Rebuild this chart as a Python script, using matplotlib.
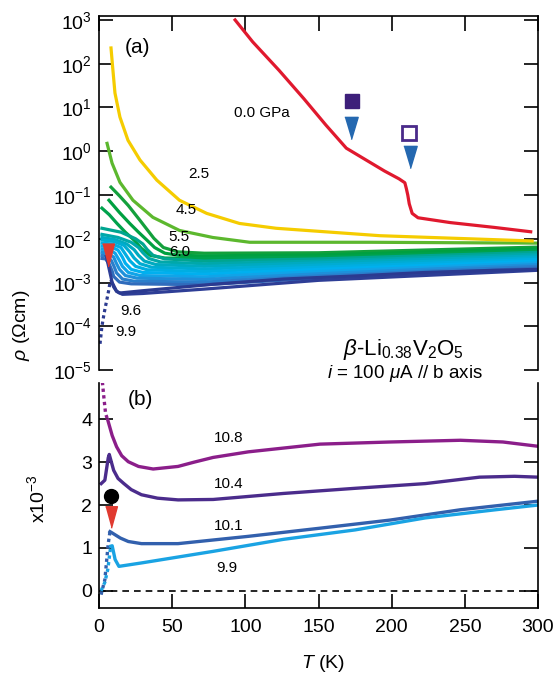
import matplotlib.pyplot as plt

plt.rcParams['font.family'] = ['Liberation Sans', 'DejaVu Sans']
plt.rcParams['mathtext.fontset'] = 'custom'
plt.rcParams['mathtext.rm'] = 'Liberation Sans'
plt.rcParams['mathtext.it'] = 'Liberation Sans:italic'

# ---- panel (a): log10 rho (Ohm cm) vs T (K) ----
t_00 = [93, 105, 123, 140, 155, 169, 180, 195, 205, 209, 210, 211, 212, 214, 218, 240, 270, 295]
lr_00 = [3.0, 2.5, 1.85, 1.2, 0.6, 0.07, -0.15, -0.45, -0.63, -0.72, -0.85, -1.0, -1.2, -1.42, -1.52, -1.63, -1.74, -1.84]

t_25 = [8.2, 9.3, 10.9, 14.3, 19.8, 28, 39.5, 55, 73.6, 96, 121, 192, 296]
lr_25 = [2.36, 1.93, 1.33, 0.78, 0.25, -0.2, -0.66, -1.12, -1.42, -1.65, -1.76, -1.93, -2.05]

t_45 = [5.5, 8.9, 14.3, 23.2, 36.8, 55, 77.7, 103, 185, 300]
lr_45 = [0.18, -0.27, -0.71, -1.12, -1.51, -1.81, -1.97, -2.08, -2.08, -2.1]

# curves from 5.5 GPa up to 9.6 GPa
mid_t = [
    [8.2, 14, 20, 28, 37.5, 44, 54, 72, 150, 300],
    [6.8, 14, 21, 27, 32.7, 38, 45, 55, 72, 150, 300],
    [2, 7, 12.3, 18, 23.9, 29, 35, 45, 72, 150, 300],
    [2, 15, 25, 30, 33, 37, 45, 72, 150, 300],
    [2, 13, 22, 27, 30, 34, 42, 72, 150, 300],
    [2, 11, 19, 24, 27, 31, 39, 72, 150, 300],
    [2, 10, 17, 21, 24, 28, 36, 72, 150, 300],
    [2, 9, 15, 18, 21, 25, 33, 72, 150, 300],
    [2, 8, 13, 16, 18, 22, 30, 72, 150, 300],
    [2, 7, 11, 14, 16, 20, 28, 72, 150, 300],
    [2, 6, 10, 12, 14, 18, 26, 72, 150, 300],
    [2, 5, 8.5, 10.5, 12, 16, 24, 72, 150, 300],
    [2, 4.5, 7, 9, 10, 14, 22, 72, 150, 300],
    [5, 7, 9, 12, 16, 30, 72, 150, 300],
]
mid_lr = [
    [-0.82, -1.02, -1.24, -1.58, -1.99, -2.2, -2.3, -2.33, -2.32, -2.19],
    [-1.12, -1.4, -1.65, -1.85, -2.03, -2.2, -2.33, -2.38, -2.39, -2.37, -2.23],
    [-1.3, -1.45, -1.65, -1.85, -2.03, -2.22, -2.38, -2.44, -2.45, -2.42, -2.27],
    [-1.76, -1.85, -2.0, -2.12, -2.25, -2.38, -2.46, -2.51, -2.46, -2.31],
    [-1.9, -1.97, -2.08, -2.2, -2.32, -2.45, -2.53, -2.57, -2.51, -2.35],
    [-1.97, -2.02, -2.12, -2.25, -2.38, -2.51, -2.59, -2.63, -2.55, -2.39],
    [-2.03, -2.06, -2.15, -2.3, -2.44, -2.57, -2.65, -2.69, -2.6, -2.43],
    [-2.1, -2.12, -2.2, -2.35, -2.5, -2.63, -2.71, -2.75, -2.65, -2.47],
    [-2.17, -2.18, -2.26, -2.42, -2.56, -2.7, -2.77, -2.81, -2.7, -2.51],
    [-2.24, -2.25, -2.33, -2.5, -2.63, -2.77, -2.84, -2.87, -2.75, -2.55],
    [-2.31, -2.32, -2.42, -2.57, -2.7, -2.84, -2.9, -2.93, -2.8, -2.59],
    [-2.38, -2.39, -2.5, -2.65, -2.78, -2.92, -2.97, -2.99, -2.85, -2.63],
    [-2.45, -2.46, -2.58, -2.74, -2.86, -2.99, -3.03, -3.05, -2.9, -2.67],
    [-2.4, -2.7, -3.0, -3.2, -3.27, -3.25, -3.15, -2.95, -2.72],
]
mid_colors = ['#13a03c', '#00a040', '#00a24c', '#00a590', '#00a8aa', '#00aac0',
              '#00acd2', '#00aee2', '#00b0ef', '#10a4e8', '#1e90da', '#2a7ecb',
              '#306cbc', '#2e3e96']

t_99a = [0.7, 2, 3.5, 5, 6.5, 7.5, 8.5, 10, 12, 14, 29, 78, 126, 175, 223, 271, 300]
lr_99a = [-4.4, -4.0, -3.7, -3.45, -3.2, -3.0, -2.97, -3.1, -3.2, -3.24, -3.19, -3.04, -2.92, -2.85, -2.77, -2.72, -2.7]

# ---- panel (b): rho in units of 1e-3 Ohm cm ----
t_108 = [2.3, 3.5, 4.5, 6, 9, 12, 15.5, 20, 27, 37, 54, 65, 78, 102, 151, 199, 247, 276, 300]
v_108 = [4.87, 4.45, 4.13, 3.98, 3.62, 3.36, 3.15, 3.01, 2.9, 2.84, 2.9, 3.0, 3.11, 3.24, 3.42, 3.47, 3.51, 3.47, 3.37]
t_104 = [1.5, 4, 6.3, 7, 10, 13, 17, 22, 29, 40, 54, 78, 126, 175, 223, 260, 284, 300]
v_104 = [2.5, 2.58, 3.1, 3.18, 2.81, 2.62, 2.5, 2.36, 2.24, 2.16, 2.12, 2.13, 2.27, 2.39, 2.5, 2.65, 2.67, 2.65]
t_101 = [1.4, 4, 6.3, 7.5, 8.5, 14.6, 20, 29, 54, 102, 151, 199, 247, 300]
v_101 = [-0.09, 0.26, 1.1, 1.38, 1.36, 1.23, 1.15, 1.1, 1.1, 1.27, 1.46, 1.65, 1.89, 2.09]
t_99b = [1.4, 4, 6, 8, 9, 11, 13.6, 29, 78, 126, 175, 223, 271, 300]
v_99b = [0.0, 0.2, 0.5, 1.04, 1.05, 0.73, 0.57, 0.65, 0.92, 1.2, 1.42, 1.7, 1.89, 2.0]

fig = plt.figure(figsize=(5.55, 6.79), dpi=100)
ax1 = fig.add_axes([0.1784, 0.455, 0.791, 0.5214])
ax2 = fig.add_axes([0.1784, 0.1046, 0.791, 0.331])

lw = 2.3
for t, lr, c in zip(mid_t, mid_lr, mid_colors):
    ax1.plot(t, [10 ** v for v in lr], color=c, lw=lw)
ax1.plot(t_99a[:7], [10 ** v for v in lr_99a[:7]], color='#2b3a90', lw=lw, ls=(0, (1, 1)))
ax1.plot(t_99a[6:], [10 ** v for v in lr_99a[6:]], color='#2b3a90', lw=lw)
ax1.plot(t_45, [10 ** v for v in lr_45], color='#5cb82e', lw=lw)
ax1.plot(t_25, [10 ** v for v in lr_25], color='#f5cc00', lw=lw)
ax1.plot(t_00, [10 ** v for v in lr_00], color='#e0192e', lw=lw)

ax1.set_yscale('log')
ax1.set_xlim(0, 300)
ax1.set_ylim(1e-5, 10 ** 3.09)
ax1.set_yticks([10.0 ** k for k in range(-5, 4)])
ax1.yaxis.set_minor_locator(plt.NullLocator())
ax1.set_xticks([0, 50, 100, 150, 200, 250, 300])
ax1.spines['bottom'].set_visible(False)
ax1.tick_params(axis='x', bottom=False, top=True, labelbottom=False, direction='in', length=11, width=1.2)
ax1.tick_params(axis='y', left=True, right=True, direction='in', length=10, width=1.2, labelsize=14, pad=5)

# markers in (a)
tri_down = [(-0.52, 1), (0.52, 1), (0, -1)]
ax1.plot([6.3], [10 ** -2.36], marker=tri_down, ms=16.5, color='#e03a30', ls='none')
ax1.plot([173.2], [10 ** 1.15], marker='s', ms=10, color='#3d1f7a', ls='none')
ax1.plot([211.6], [10 ** 0.42], marker='s', ms=9.5, mfc='white', mec='#4a2a8a', mew=2, ls='none')
ax1.plot([172.3, 212.5], [10 ** 0.54, 10 ** -0.14], marker=[(-0.6, 1), (0.6, 1), (0, -1)],
         ms=16, color='#2468b0', ls='none')

lab = dict(fontsize=11, ha='center', va='center')
ax1.text(111, 7.4, '0.0 GPa', **lab)
ax1.text(68.2, 0.30, '2.5', **lab)
ax1.text(59.3, 0.045, '4.5', **lab)
ax1.text(54.5, 0.0107, '5.5', **lab)
ax1.text(55.2, 0.0051, '6.0', **lab)
ax1.text(21.8, 2.2e-4, '9.6', **lab)
ax1.text(18.4, 7.6e-5, '9.9', **lab)
ax1.text(26, 10 ** 2.38, '(a)', fontsize=15, ha='center', va='center')
ax1.text(208, 10 ** -4.53, r'$\beta$-Li$_{0.38}$V$_2$O$_5$', fontsize=16, ha='center', va='center')
ax1.text(209, 10 ** -5.08, r'$i$ = 100 $\mu$A // b axis', fontsize=13.5, ha='center', va='center',
         clip_on=False)

# panel (b)
ax2.axhline(0, color='k', lw=1.2, ls=(0, (4, 3)))
ax2.plot(t_108[:4], v_108[:4], color='#8b1e8a', lw=2.4, ls=(0, (1, 1)))
ax2.plot(t_108[3:], v_108[3:], color='#8b1e8a', lw=2.4)
ax2.plot(t_104, v_104, color='#4b2c8c', lw=2.4)
ax2.plot(t_101[:4], v_101[:4], color='#3260ad', lw=2.4, ls=(0, (1, 1)))
ax2.plot(t_101[3:], v_101[3:], color='#3260ad', lw=2.4)
ax2.plot(t_99b[:4], v_99b[:4], color='#1aa3e3', lw=2.4, ls=(0, (1, 1)))
ax2.plot(t_99b[3:], v_99b[3:], color='#1aa3e3', lw=2.4)

ax2.plot([7.9], [2.21], marker='o', ms=10, color='black', ls='none')
ax2.plot([7.9], [1.72], marker=[(-0.55, 1), (0.55, 1), (0, -1)], ms=15.5, color='#e03a30', ls='none')

ax2.text(88.6, 3.56, '10.8', **lab)
ax2.text(88.6, 2.49, '10.4', **lab)
ax2.text(88.3, 1.51, '10.1', **lab)
ax2.text(87.3, 0.53, '9.9', **lab)
ax2.text(28.6, 4.45, '(b)', fontsize=15, ha='center', va='center')

ax2.set_xlim(0, 300)
ax2.set_ylim(-0.40, 4.84)
ax2.set_xticks([0, 50, 100, 150, 200, 250, 300])
ax2.set_yticks([0, 1, 2, 3, 4])
ax2.spines['top'].set_visible(False)
ax2.tick_params(axis='x', direction='in', length=10, width=1.2, labelsize=14, pad=8)
ax2.tick_params(axis='y', left=True, right=True, direction='in', length=10, width=1.2, labelsize=14, pad=5)

for ax in (ax1, ax2):
    for s in ax.spines.values():
        s.set_linewidth(1.2)

fig.text(22 / 555, 1 - 325 / 679, r'$\rho$ ($\Omega$cm)', rotation=90, fontsize=14, ha='center', va='center')
fig.text(37 / 555, 1 - 499 / 679, r'x10$^{-3}$', rotation=90, fontsize=14, ha='center', va='center')
fig.text(323 / 555, 1 - 664 / 679, r'$T$ (K)', fontsize=14, ha='center', va='center')

fig.savefig('out.png', dpi=100)
